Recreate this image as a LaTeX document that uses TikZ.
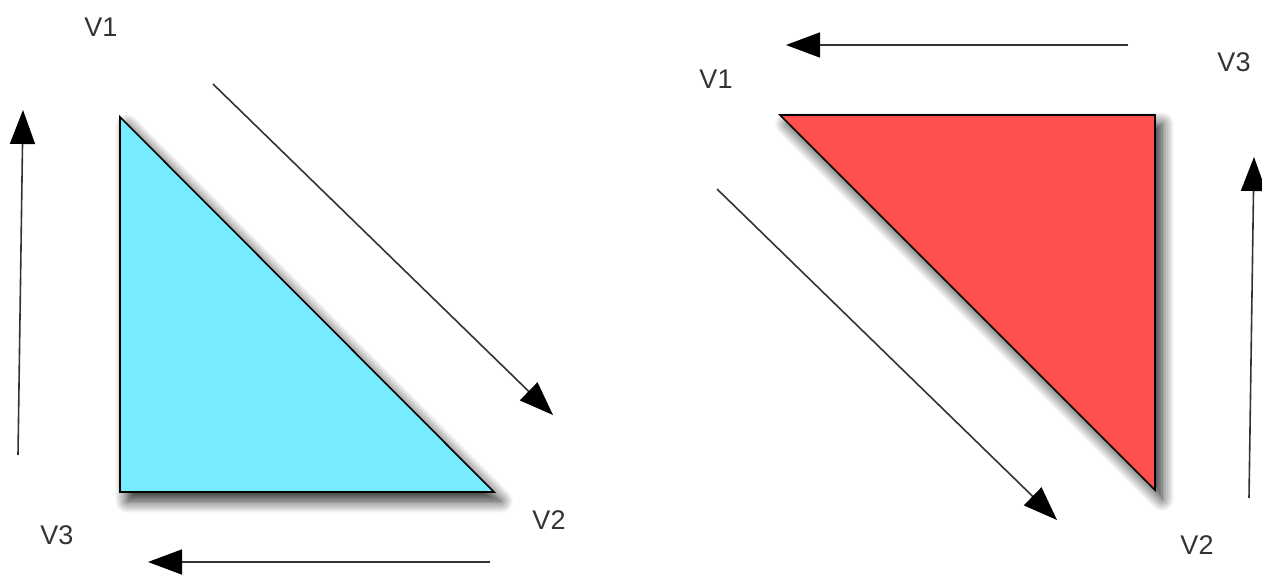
\documentclass[tikz,border=0pt]{standalone}
\usepackage{fontspec}
\setmainfont{Liberation Sans}
\usetikzlibrary{arrows.meta,shadows.blur}
\definecolor{cyanfill}{HTML}{77EBFF}
\definecolor{redfill}{HTML}{FF5050}
\definecolor{txt}{HTML}{333333}
\begin{document}
\begin{tikzpicture}[x=1pt,y=-1pt,
  tri/.style={draw=black,line width=1.6pt,line join=miter,blur shadow={shadow xshift=7pt,shadow yshift=-9pt,shadow blur radius=12pt,shadow opacity=85,shadow blur steps=12}},
  arr/.style={draw=txt,line width=1.6pt,-{Triangle[length=34pt,width=25pt,color=black,fill=black]}},
  lbl/.style={text=txt,font=\fontsize{27}{30}\selectfont,inner sep=0pt}]
\useasboundingbox (0,0) rectangle (1262,576);
% left triangle
\coordinate (LA) at (120,117);
\coordinate (LB) at (494,492);
\coordinate (LC) at (120,492);
\path[tri,fill=cyanfill] (LA) -- (LB) -- (LC) -- cycle;
% right triangle
\coordinate (RA) at (780,115);
\coordinate (RB) at (1155,490);
\coordinate (RC) at (1155,115);
\path[tri,fill=redfill] (RA) -- (RC) -- (RB) -- cycle;
% labels
\node[lbl] (l1) at (101,27) {V1};
\node[lbl] (l2) at (549,520) {V2};
\node[lbl] (l3) at (57,535) {V3};
\node[lbl] (r1) at (716,79) {V1};
\node[lbl] (r3) at (1234,62) {V3};
\node[lbl] (r2) at (1197,545) {V2};
% arrows
\coordinate (a1s) at (18,455); \coordinate (a1e) at (23,110);
\coordinate (a2s) at (213,84); \coordinate (a2e) at (553,415);
\coordinate (a3s) at (490,562); \coordinate (a3e) at (148,562);
\coordinate (b1s) at (1128,45); \coordinate (b1e) at (786,45);
\coordinate (b2s) at (717,189); \coordinate (b2e) at (1057,520);
\coordinate (b3s) at (1249,498); \coordinate (b3e) at (1254,157);
\draw[arr] (a1s) -- (a1e);
\draw[arr] (a2s) -- (a2e);
\draw[arr] (a3s) -- (a3e);
\draw[arr] (b1s) -- (b1e);
\draw[arr] (b2s) -- (b2e);
\draw[arr] (b3s) -- (b3e);
\end{tikzpicture}
\end{document}
